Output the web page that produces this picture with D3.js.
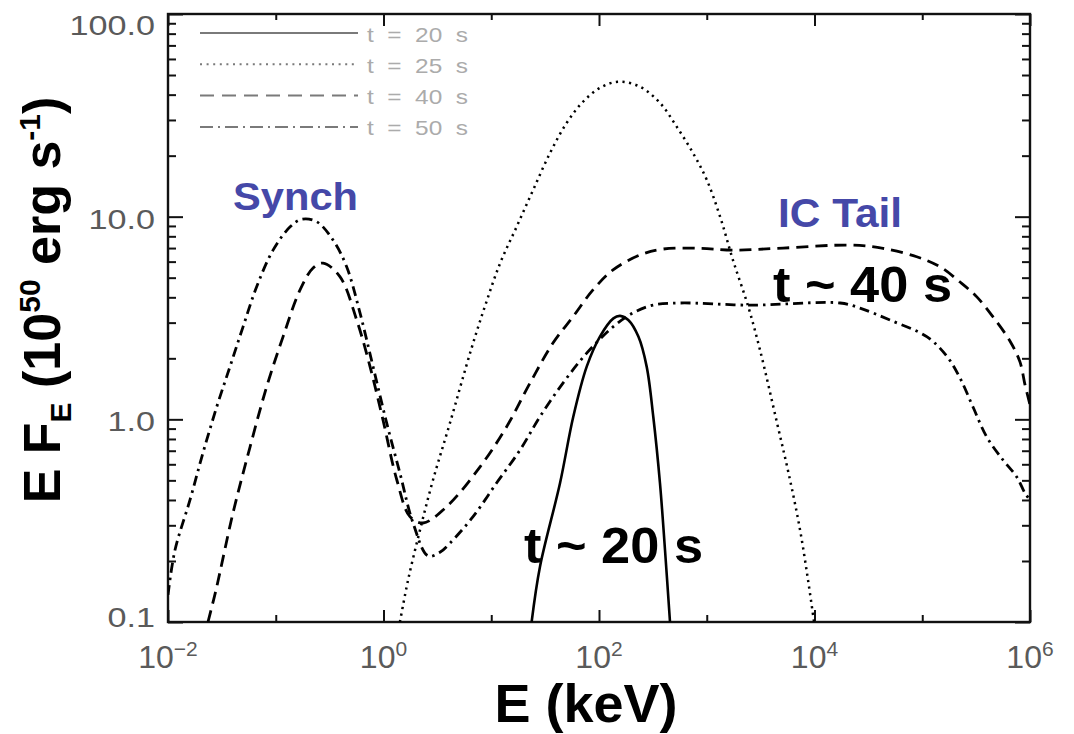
<!DOCTYPE html>
<html>
<head>
<meta charset="utf-8">
<script src="https://cdn.jsdelivr.net/npm/d3@7"></script>
<style>
  body { margin: 0; background: #fff; }
  svg { display: block; font-family: "Liberation Sans", Arial, Helvetica, sans-serif; }
</style>
</head>
<body>
<svg id="chart" width="1074" height="734"></svg>
<script>
// Photon energies (keV) and E·F_E (1e50 erg/s) for each epoch
const energy20 = [23.7, 28.3, 43.5, 57.7, 76.9, 102, 136, 157, 187, 232, 277, 319, 368, 410, 456];
const flux20   = [0.1, 0.187, 0.485, 1.03, 1.82, 2.56, 3.15, 3.24, 3.09, 2.56, 1.82, 1.03, 0.485, 0.226, 0.1];

const energy25 = [1.42, 1.69, 2.18, 2.88, 4.14, 6.49, 8.75, 12.1, 17.2, 24.4, 35.1, 50.1, 71.1, 102, 150,
                  240, 368, 526, 746, 1000, 1330, 1750, 2420, 3120, 4490, 5930, 7350, 8710, 9900];
const flux25   = [0.1, 0.161, 0.284, 0.502, 0.960, 2.20, 3.62, 5.90, 8.91, 13.5, 20.6, 29.0, 36.9, 43.2, 46.3,
                  43.8, 36.4, 27.8, 20.6, 15.2, 10.0, 6.11, 3.62, 2.20, 0.96, 0.502, 0.284, 0.161, 0.1];

const energy40 = [0.0235, 0.0279, 0.0401, 0.0577, 0.0824, 0.117, 0.168, 0.222, 0.275, 0.394,
                  0.564, 0.750, 0.989, 1.33, 1.76, 2.33, 3.86, 7.87, 13.9, 22.9,
                  37.4, 57.4, 87.9, 135, 240, 393, 867, 1750, 5100, 21400,
                  43300, 88900, 146000, 224000, 321000, 454000, 653000, 807000, 899000, 1e6];
const flux40   = [0.1, 0.144, 0.345, 0.730, 1.45, 2.56, 4.35, 5.58, 5.90, 5.06,
                  3.09, 1.82, 0.993, 0.502, 0.331, 0.308, 0.371, 0.583, 0.920, 1.51,
                  2.38, 3.21, 4.35, 5.46, 6.47, 6.92, 6.98, 6.84, 7.00, 7.24,
                  6.98, 6.34, 5.66, 4.76, 4.02, 3.20, 2.43, 1.92, 1.48, 1.18];

const energy50 = [0.01, 0.0116, 0.0160, 0.0211, 0.0283, 0.0376, 0.0497, 0.0665, 0.0944, 0.136,
                  0.174, 0.240, 0.340, 0.455, 0.605, 0.800, 1.07, 1.42, 1.88, 2.59,
                  3.34, 4.14, 6.78, 11.2, 18.5, 28.3, 46.3, 76.9, 135, 207,
                  317, 565, 2520, 17300, 26400, 50200, 111000, 170000, 224000, 296000,
                  396000, 562000, 754000, 899000, 1e6];
const flux50   = [0.136, 0.226, 0.400, 0.682, 1.15, 1.82, 2.86, 4.51, 6.84, 8.91,
                  9.70, 9.44, 7.67, 5.66, 3.35, 1.82, 0.96, 0.543, 0.308, 0.212,
                  0.221, 0.245, 0.331, 0.485, 0.706, 1.03, 1.51, 2.12, 2.86, 3.35,
                  3.66, 3.75, 3.66, 3.75, 3.54, 3.09, 2.55, 2.04, 1.60, 1.15,
                  0.820, 0.630, 0.519, 0.432, 0.400];

const seriesLabels = ["t = 20 s", "t = 25 s", "t = 40 s", "t = 50 s"];

// Axis ticks
const xMajorTicks = [1e-2, 1e0, 1e2, 1e4, 1e6];
const xMajorExponents = ["\u22122", "0", "2", "4", "6"];
const xMinorTicks = [1e-1, 1e1, 1e3, 1e5];
const yMajorTicks = [0.1, 1, 10, 100];
const yMajorLabels = ["0.1", "1.0", "10.0", "100.0"];

// ---------------------------------------------------------------
const svg = d3.select("#chart");
const plot = { left: 168, right: 1030, top: 14, bottom: 622 };

const x = d3.scaleLog().domain([1e-2, 1e6]).range([plot.left, plot.right]);
const y = d3.scaleLog().domain([0.1, 100]).range([plot.bottom, plot.top]);

const yMinorTicks = [];
[0.1, 1, 10].forEach(d => d3.range(2, 10).forEach(k => yMinorTicks.push(+(d * k).toPrecision(3))));

svg.append("defs").append("clipPath").attr("id", "plot-clip")
  .append("rect")
  .attr("x", plot.left).attr("y", plot.top)
  .attr("width", plot.right - plot.left).attr("height", plot.bottom - plot.top);

// Tick marks on all four sides, pointing inward
function ticks(axis, transform, values, size) {
  const g = svg.append("g").attr("transform", transform)
    .call(axis.tickValues(values).tickSize(-size).tickFormat(""));
  g.select(".domain").remove();
  g.selectAll(".tick line").attr("stroke", "#111").attr("stroke-width", 2);
  return g;
}
ticks(d3.axisBottom(x), `translate(0,${plot.bottom})`, xMajorTicks, 12);
ticks(d3.axisBottom(x), `translate(0,${plot.bottom})`, xMinorTicks, 7);
ticks(d3.axisTop(x), `translate(0,${plot.top})`, xMajorTicks, 12);
ticks(d3.axisTop(x), `translate(0,${plot.top})`, xMinorTicks, 6);
ticks(d3.axisLeft(y), `translate(${plot.left},0)`, yMajorTicks, 15);
ticks(d3.axisLeft(y), `translate(${plot.left},0)`, yMinorTicks, 8);
ticks(d3.axisRight(y), `translate(${plot.right},0)`, yMajorTicks, 15);
ticks(d3.axisRight(y), `translate(${plot.right},0)`, yMinorTicks, 8);

// Frame
svg.append("rect")
  .attr("x", plot.left).attr("y", plot.top)
  .attr("width", plot.right - plot.left).attr("height", plot.bottom - plot.top)
  .attr("fill", "none").attr("stroke", "#111").attr("stroke-width", 2.4);

// X tick labels: 10^n
const xLab = svg.append("g").attr("fill", "#5a5a5a");
xMajorTicks.forEach((v, i) => {
  const t = xLab.append("text")
    .attr("x", x(v)).attr("y", 668)
    .attr("text-anchor", "middle");
  t.append("tspan").attr("font-size", 32).text("10");
  t.append("tspan").attr("font-size", 21).attr("dy", -12).text(xMajorExponents[i]);
});

// Y tick labels
const yLab = svg.append("g").attr("fill", "#5a5a5a");
yMajorTicks.forEach((v, i) => {
  const t = yLab.append("text")
    .attr("x", 155)
    .attr("y", Math.min(627, Math.max(35, y(v) + 12)))
    .attr("text-anchor", "end")
    .attr("font-size", 28)
    .text(yMajorLabels[i]);
  const w = t.node().getComputedTextLength();
  t.attr("textLength", w * 1.22).attr("lengthAdjust", "spacingAndGlyphs");
});

// Spectra
const styles = [
  { dash: null, width: 2.6 },
  { dash: "2.2,4.4", width: 2.5 },
  { dash: "12,7", width: 2.8 },
  { dash: "10,5,2.5,5", width: 2.8 }
];
const series = [
  { E: energy20, F: flux20 },
  { E: energy25, F: flux25 },
  { E: energy40, F: flux40 },
  { E: energy50, F: flux50 }
];
const line = d3.line()
  .x(d => x(d[0])).y(d => y(d[1]))
  .curve(d3.curveCatmullRom.alpha(0.5));

const curves = svg.append("g").attr("clip-path", "url(#plot-clip)");
series.forEach((s, i) => {
  curves.append("path")
    .datum(d3.zip(s.E, s.F))
    .attr("d", line)
    .attr("fill", "none")
    .attr("stroke", "#000")
    .attr("stroke-width", styles[i].width)
    .attr("stroke-dasharray", styles[i].dash)
    .attr("stroke-linejoin", "round");
});

// Legend (upper left, grey)
const legendStyles = [null, "2,4.6", "14,8", "13,5,2,5"];
const legend = svg.append("g");
seriesLabels.forEach((lab, i) => {
  const ly = 33 + i * 31.3;
  legend.append("line")
    .attr("x1", 200).attr("x2", 358).attr("y1", ly).attr("y2", ly)
    .attr("stroke", "#7a7a7a").attr("stroke-width", 2)
    .attr("stroke-dasharray", legendStyles[i]);
  legend.append("text")
    .attr("x", 367).attr("y", ly + 8.5)
    .attr("font-size", 21).attr("fill", "#ababab")
    .attr("xml:space", "preserve")
    .style("white-space", "pre")
    .attr("textLength", 101).attr("lengthAdjust", "spacingAndGlyphs")
    .text(lab.replace(/ /g, "  "));
});

// Annotations
const ann = svg.append("g").attr("font-weight", "bold");
ann.append("text").attr("x", 233).attr("y", 210).attr("font-size", 38)
  .attr("fill", "#4548a8").attr("textLength", 125).attr("lengthAdjust", "spacingAndGlyphs").text("Synch");
ann.append("text").attr("x", 778).attr("y", 227).attr("font-size", 40)
  .attr("fill", "#4548a8").attr("textLength", 124).attr("lengthAdjust", "spacingAndGlyphs").text("IC Tail");
ann.append("text").attr("x", 773).attr("y", 302).attr("font-size", 50)
  .attr("fill", "#000").attr("textLength", 179).attr("lengthAdjust", "spacingAndGlyphs").text("t ~ 40 s");
ann.append("text").attr("x", 524).attr("y", 563).attr("font-size", 50)
  .attr("fill", "#000").attr("textLength", 179).attr("lengthAdjust", "spacingAndGlyphs").text("t ~ 20 s");

// Axis titles
svg.append("text")
  .attr("x", 586).attr("y", 722)
  .attr("text-anchor", "middle")
  .attr("font-size", 54).attr("font-weight", "bold")
  .text("E (keV)");

const yt = svg.append("text")
  .attr("transform", "translate(60,300) rotate(-90)")
  .attr("text-anchor", "middle")
  .attr("font-size", 52).attr("font-weight", "bold");
yt.append("tspan").text("E F");
yt.append("tspan").attr("font-size", 30).attr("dy", 11).text("E");
yt.append("tspan").attr("dy", -11).text(" (10");
yt.append("tspan").attr("font-size", 30).attr("dy", -20).text("50");
yt.append("tspan").attr("dy", 20).text(" erg s");
yt.append("tspan").attr("font-size", 30).attr("dy", -20).text("-1");
yt.append("tspan").attr("dy", 20).text(")");
</script>
</body>
</html>
